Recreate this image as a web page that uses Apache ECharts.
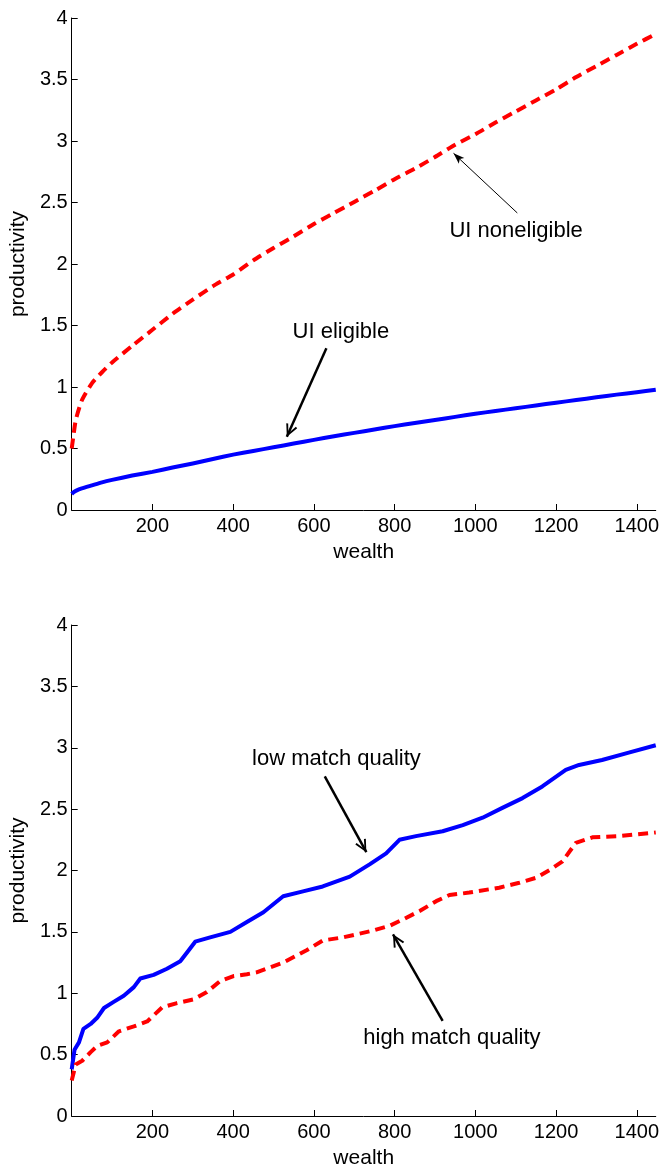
<!DOCTYPE html>
<html>
<head>
<meta charset="utf-8">
<script src="https://cdn.jsdelivr.net/npm/echarts@6/dist/echarts.min.js"></script>
<style>
html,body{margin:0;padding:0;background:#fff;}
#chart{width:662px;height:1170px;}
</style>
</head>
<body>
<div id="chart"></div>
<script>
// ---- data ----
const xTicks = [200, 400, 600, 800, 1000, 1200, 1400];
const wealthMax = 1447;

// top panel
const topWealth = [0,5,10,25,50,75,100,150,200,250,300,350,400,450,500,550,600,650,700,750,800,850,900,950,1000,1050,1100,1150,1200,1250,1300,1350,1400,1447];
const uiNonEligible = [0.50,0.62,0.73,0.89,1.03,1.12,1.20,1.335,1.465,1.595,1.71,1.82,1.915,2.03,2.13,2.225,2.325,2.415,2.505,2.595,2.69,2.775,2.87,2.97,3.055,3.15,3.24,3.33,3.42,3.52,3.61,3.70,3.79,3.87];
const uiEligible = [0.13,0.145,0.155,0.175,0.20,0.225,0.245,0.28,0.31,0.345,0.378,0.415,0.45,0.48,0.51,0.54,0.57,0.60,0.627,0.655,0.682,0.707,0.732,0.757,0.782,0.805,0.827,0.85,0.872,0.894,0.916,0.938,0.958,0.978];

// bottom panel
const lowWealth = [0,7,18,29,47,63,80,104,129,154,170,203,236,269,290,306,343,393,434,475,524,573,622,689,738,779,812,853,919,969,1018,1067,1117,1166,1224,1257,1314,1380,1447];
const lowMatch = [0.38,0.54,0.60,0.71,0.75,0.80,0.88,0.93,0.98,1.05,1.12,1.15,1.20,1.26,1.35,1.42,1.455,1.50,1.58,1.66,1.79,1.83,1.87,1.95,2.05,2.14,2.25,2.28,2.32,2.37,2.43,2.51,2.59,2.685,2.82,2.86,2.90,2.96,3.02];
const highWealth = [0,10,26,47,63,88,117,154,187,224,261,302,335,368,401,434,458,524,582,622,672,746,788,820,862,903,936,985,1059,1109,1150,1187,1216,1249,1290,1356,1447];
const highMatch = [0.29,0.42,0.45,0.52,0.57,0.60,0.69,0.73,0.77,0.885,0.92,0.95,1.01,1.10,1.14,1.155,1.17,1.25,1.35,1.43,1.455,1.51,1.55,1.60,1.67,1.75,1.80,1.82,1.86,1.90,1.94,2.01,2.075,2.225,2.27,2.28,2.31];

// annotations (data coordinates): [text, textX, textY, arrowFromX, arrowFromY, arrowToX, arrowToY]
const noteNonEligible = ['UI noneligible', 1101, 2.27, 1104, 2.415, 946, 2.90];
const noteEligible = ['UI eligible', 667, 1.45, 631, 1.315, 533, 0.596];
const noteLow = ['low match quality', 656, 2.91, 627, 2.767, 730, 2.149];
const noteHigh = ['high match quality', 942, 0.64, 919, 0.775, 796, 1.48];

// ---- build ----
const FONT = "'Liberation Sans', Arial, sans-serif";
const zip = (xs, ys) => xs.map((x, i) => [x, ys[i]]);

const chevron = 'path://M0,0 L6,12 L4.2,12.7 L0,3.8 L-4.2,12.7 L-6,12 Z M0,-12.7 L0.01,-12.7 L0,-12.69 Z';
const barb = 'path://M0,0 L4,11 L0,8.5 L-4,11 Z M0,-11 L0.01,-11 L0,-10.99 Z';

function markLineFor(note, width, sym, size) {
  return {
    silent: true,
    animation: false,
    symbol: ['none', sym],
    symbolSize: size,
    label: { show: false },
    emphasis: { disabled: true },
    lineStyle: { color: '#000', width: width, type: 'solid' },
    data: [[{ coord: [note[3], note[4]] }, { coord: [note[5], note[6]] }]]
  };
}
function markPointFor(note) {
  return {
    silent: true,
    animation: false,
    symbol: 'circle',
    symbolSize: 0,
    label: { show: true, position: 'inside', formatter: note[0], color: '#000', fontSize: 22, fontFamily: FONT },
    data: [{ coord: [note[1], note[2]] }]
  };
}

function xAxisFor(gi) {
  return {
    type: 'value', gridIndex: gi, min: 0, max: wealthMax,
    name: 'wealth', nameLocation: 'middle', nameGap: 32,
    nameTextStyle: { color: '#000', fontSize: 21, fontFamily: FONT },
    axisLine: { show: true, lineStyle: { color: '#000', width: 1 } },
    axisTick: { show: true, inside: true, length: 6, lineStyle: { color: '#000' }, customValues: xTicks },
    axisLabel: { color: '#000', fontSize: 20, fontFamily: FONT, margin: 6, customValues: xTicks,
                 formatter: v => String(v) },
    splitLine: { show: false }
  };
}
function yAxisFor(gi) {
  return {
    type: 'value', gridIndex: gi, min: 0, max: 4, interval: 0.5,
    name: 'productivity', nameLocation: 'middle', nameGap: 37,
    nameTextStyle: { color: '#000', fontSize: 21, fontFamily: FONT },
    axisLine: { show: true, lineStyle: { color: '#000', width: 1 } },
    axisTick: { show: true, inside: true, length: 6, lineStyle: { color: '#000' } },
    axisLabel: { color: '#000', fontSize: 20, fontFamily: FONT, margin: 4, formatter: v => String(v) },
    splitLine: { show: false }
  };
}

const solid = { color: '#0000ff', width: 4, type: 'solid', cap: 'butt', join: 'round' };
const dashed = { color: '#ff0000', width: 4, type: [10, 6], cap: 'butt', join: 'round' };

const option = {
  animation: false,
  backgroundColor: '#fff',
  textStyle: { fontFamily: FONT },
  grid: [
    { left: 71, top: 18, width: 586, height: 492 },
    { left: 71, top: 625, width: 586, height: 492 }
  ],
  xAxis: [xAxisFor(0), xAxisFor(1)],
  yAxis: [yAxisFor(0), yAxisFor(1)],
  series: [
    { type: 'line', xAxisIndex: 0, yAxisIndex: 0, data: zip(topWealth, uiNonEligible), showSymbol: false, smooth: 0.2, lineStyle: dashed, itemStyle: { color: '#ff0000' },
      markLine: markLineFor(noteNonEligible, 1, barb, [8, 22]), markPoint: markPointFor(noteNonEligible) },
    { type: 'line', xAxisIndex: 0, yAxisIndex: 0, data: zip(topWealth, uiEligible), showSymbol: false, smooth: 0.2, lineStyle: solid, itemStyle: { color: '#0000ff' },
      markLine: markLineFor(noteEligible, 2.5, chevron, [12, 25.4]), markPoint: markPointFor(noteEligible) },
    { type: 'line', xAxisIndex: 1, yAxisIndex: 1, data: zip(lowWealth, lowMatch), showSymbol: false, lineStyle: solid, itemStyle: { color: '#0000ff' },
      markLine: markLineFor(noteLow, 2.5, chevron, [12, 25.4]), markPoint: markPointFor(noteLow) },
    { type: 'line', xAxisIndex: 1, yAxisIndex: 1, data: zip(highWealth, highMatch), showSymbol: false, lineStyle: dashed, itemStyle: { color: '#ff0000' },
      markLine: markLineFor(noteHigh, 2.5, chevron, [12, 25.4]), markPoint: markPointFor(noteHigh) }
  ]
};

const chart = echarts.init(document.getElementById('chart'), null, { renderer: 'canvas' });
chart.setOption(option);
</script>
</body>
</html>
